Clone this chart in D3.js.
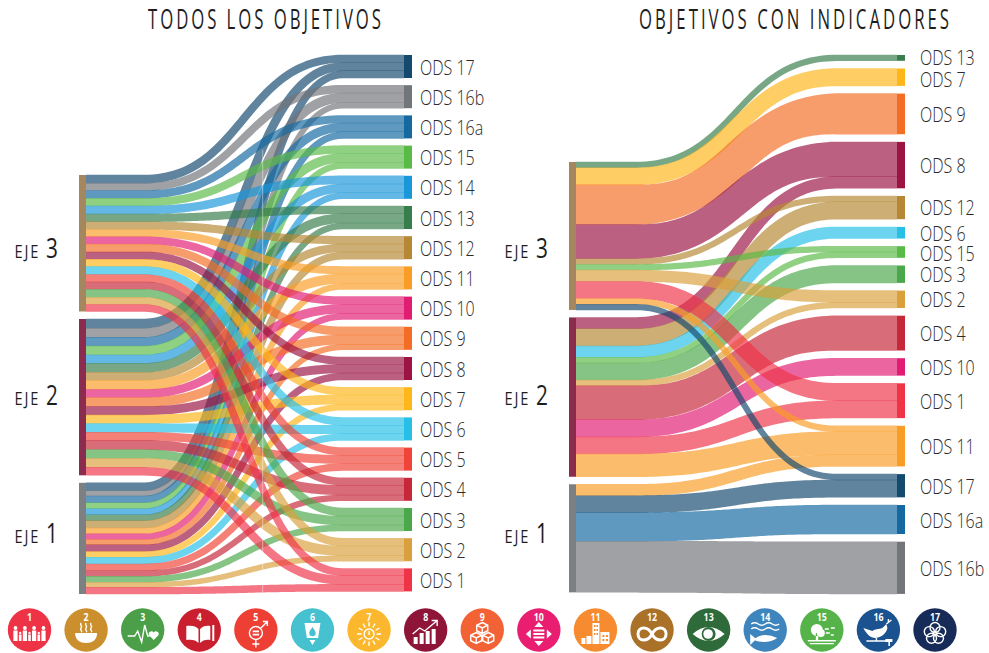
<!DOCTYPE html>
<html>
<head>
<meta charset="utf-8">
<script src="https://cdn.jsdelivr.net/npm/d3@7"></script>
<style>
  html, body { margin: 0; background: #fff; }
  .link { opacity: 0.68; }
  .label { font-family: "Open Sans", sans-serif; font-weight: 300; font-size: 20px; fill: #2b2b2b; }
  .title { font-family: "Open Sans", sans-serif; font-weight: 400; font-size: 27px; fill: #1e1e1e; }
  .eje { font-family: "Open Sans", sans-serif; font-weight: 400; fill: #1e1e1e; }
  .num { font-family: "Open Sans", sans-serif; font-weight: 700; font-size: 11px; fill: #fff; text-anchor: middle; }
</style>
</head>
<body>
<svg id="chart" width="989" height="653"></svg>
<script>
// --- data ---
var ejes = ["EJE 3", "EJE 2", "EJE 1"];

// left: all goals, same order in every axis
var allOds = ["ODS 17","ODS 16b","ODS 16a","ODS 15","ODS 14","ODS 13","ODS 12","ODS 11","ODS 10","ODS 9","ODS 8","ODS 7","ODS 6","ODS 5","ODS 4","ODS 3","ODS 2","ODS 1"];
var allEje3 = [8.3,7.3,7.7,7.7,8,7.7,7.7,7.3,7.3,8,7.3,7.3,8,7.3,7.3,8,7.3,7];
var allEje2 = [9.3,9,8.7,9,8.3,9,8,9.3,8,9,8.3,8.7,8.7,8,9.3,8.7,9,8];
var allEje1 = [8,5.3,6.7,6,6,6,7.3,5.7,5.7,5.3,6.7,5.7,6.7,6.7,5.7,6,5,6.7];

// right: goals with indicators, counts per axis
var indOds = ["ODS 13","ODS 7","ODS 9","ODS 8","ODS 12","ODS 6","ODS 15","ODS 3","ODS 2","ODS 4","ODS 10","ODS 1","ODS 11","ODS 17","ODS 16a","ODS 16b"];
var indEje3Ods = ["ODS 13","ODS 7","ODS 9","ODS 8","ODS 12","ODS 15","ODS 2","ODS 1","ODS 11","ODS 17"];
var indEje3 = [1,3,7,6,1,1,2,3,1,1];
var indEje2Ods = ["ODS 8","ODS 12","ODS 6","ODS 15","ODS 3","ODS 2","ODS 4","ODS 10","ODS 1","ODS 11"];
var indEje2 = [2,3,2,1,3,1,6,3,3,4];
var indEje1Ods = ["ODS 11","ODS 17","ODS 16a","ODS 16b"];
var indEje1 = [2,3,5,9];

var iconNumbers = d3.range(1, 18);
var iconColors = ["#ef3346","#cb8f2e","#4a9f48","#c91f2e","#ee3f35","#45c1cf","#fbb72d","#8e1538","#f26235","#e91e71","#f68b2f","#a97228","#2f6a3a","#3f85bd","#55b349","#1a5390","#172b58"];

var ejeColor = d3.scaleOrdinal(ejes, ["#a5875f","#8b2c4e","#7c8083"]);
var odsColor = d3.scaleOrdinal(
	["ODS 1","ODS 2","ODS 3","ODS 4","ODS 5","ODS 6","ODS 7","ODS 8","ODS 9","ODS 10","ODS 11","ODS 12","ODS 13","ODS 14","ODS 15","ODS 16a","ODS 16b","ODS 17"],
	["#ef3448","#d9a03d","#4ba84a","#c62839","#ef4437","#27bfe6","#fdb71b","#9b1444","#f36d25","#e11d73","#f99d27","#b68734","#387d4c","#1a97d9","#5aba47","#1569a0","#727579","#154a6f"]);

var svg = d3.select("#chart");

function sankey(o) {
	var g = svg.append("g");
	var sourceY = o.sourceTop;
	var targets = new Map(o.targets.map(function(t) { return [t, {name: t, total: 0, links: []}]; }));
	var links = [], sources = [];

	o.flows.forEach(function(f, i) {
		var total = d3.sum(f.values);
		var y = d3.scaleLinear().domain([0, total]).range([sourceY, sourceY + total * o.sourceK]);
		var acc = 0;
		f.ods.forEach(function(name, j) {
			var l = {eje: f.eje, ods: name, value: f.values[j], y0: y(acc), y1: y(acc + f.values[j]), order: i};
			acc += f.values[j];
			links.push(l);
			targets.get(name).links.push(l);
			targets.get(name).total += l.value;
		});
		sources.push({name: f.eje, y0: sourceY, y1: y(total), labelY: o.ejeY[i]});
		sourceY = y(total) + o.sourceGap;
	});

	var targetY = o.targetTop;
	targets.forEach(function(t) {
		t.y0 = targetY;
		t.y1 = targetY + o.targetHeight(t.total);
		var y = d3.scaleLinear().domain([0, t.total]).range([t.y0, t.y1]);
		var acc = 0;
		t.links.forEach(function(l) {
			l.t0 = y(acc);
			l.t1 = y(acc + l.value);
			acc += l.value;
		});
		targetY = t.y1 + o.targetGap;
	});

	// eje 1 goes underneath, eje 3 on top
	links.sort(function(a, b) { return b.order - a.order; });

	g.selectAll(".link").data(links).join("path")
		.attr("class", "link")
		.attr("fill", function(d) { return odsColor(d.ods); })
		.attr("d", function(d) { return ribbon(d, o); });

	if (o.seam) {
		g.append("line").attr("x1", o.seam).attr("x2", o.seam).attr("y1", 150).attr("y2", 593)
			.attr("stroke", "#fff").attr("stroke-opacity", 0.45);
	}

	g.selectAll(".source").data(sources).join("rect")
		.attr("x", o.sourceX).attr("width", o.nodeW0)
		.attr("y", function(d) { return d.y0; })
		.attr("height", function(d) { return d.y1 - d.y0; })
		.attr("fill", function(d) { return ejeColor(d.name); });

	var nodes = Array.from(targets.values());
	g.selectAll(".target").data(nodes).join("rect")
		.attr("x", o.targetX).attr("width", o.nodeW1)
		.attr("y", function(d) { return d.y0; })
		.attr("height", function(d) { return d.y1 - d.y0; })
		.attr("fill", function(d) { return odsColor(d.name); });

	g.selectAll(".label").data(nodes).join("text")
		.attr("class", "label")
		.attr("transform", function(d) {
			return "translate(" + o.labelX + "," + ((d.y0 + d.y1) / 2 + 8 + (o.labelNudge[d.name] || 0)) + ") scale(0.8,1)";
		})
		.text(function(d) { return d.name; });

	g.selectAll(".eje").data(sources).join("text")
		.attr("class", "eje")
		.attr("text-anchor", "end")
		.attr("transform", function(d) { return "translate(" + (o.sourceX - 21) + "," + d.labelY + ") scale(0.77,1)"; })
		.each(function(d) {
			var parts = d.name.split(" ");
			var t = d3.select(this);
			t.append("tspan").attr("font-size", 19).attr("letter-spacing", 2.5).text(parts[0] + " ");
			t.append("tspan").attr("font-size", 27).text(parts[1]);
		});

	g.append("text").attr("class", "title")
		.attr("transform", "translate(" + o.titleX + ",29) scale(0.62,1)")
		.attr("textLength", o.titleW / 0.62).attr("lengthAdjust", "spacing")
		.text(o.title);
}

// flat start, s-curve, flat end; width goes from source to target size
function ribbon(d, o) {
	var x0 = o.sourceX + o.nodeW0, x1 = o.targetX,
		xa = x0 + o.flat0, xb = x1 - o.flat1, xm = (xa + xb) / 2,
		ya = (d.y0 + d.y1) / 2, yb = (d.t0 + d.t1) / 2,
		w0 = d.y1 - d.y0 + 0.5, w1 = d.t1 - d.t0 + 0.5;

	var top = [[x0, ya - w0 / 2]], bottom = [[x0, ya + w0 / 2]];
	d3.range(0, 61).forEach(function(i) {
		var t = i / 60, u = 1 - t;
		var x = u*u*u*xa + 3*u*u*t*xm + 3*u*t*t*xm + t*t*t*xb;
		var y = u*u*u*ya + 3*u*u*t*ya + 3*u*t*t*yb + t*t*t*yb;
		var dx = 3*u*u*(xm-xa) + 3*t*t*(xb-xm);
		var dy = 6*u*t*(yb-ya);
		var n = Math.sqrt(dx*dx + dy*dy) || 1;
		var full = w0 + (w1 - w0) * t;
		// fat ribbons get thinner where they slope, so neighbours do not run over each other
		var w = full / 2 * (1 - 0.006 * full * Math.abs(dy) / n);
		top.push([x + dy / n * w, y - dx / n * w]);
		bottom.push([x - dy / n * w, y + dx / n * w]);
	});
	top.push([x1, yb - w1 / 2]);
	bottom.push([x1, yb + w1 / 2]);
	return d3.line()(top.concat(bottom.reverse())) + "Z";
}

sankey({
	title: "TODOS LOS OBJETIVOS", titleX: 148, titleW: 233,
	flows: [
		{eje: "EJE 3", ods: allOds, values: allEje3},
		{eje: "EJE 2", ods: allOds, values: allEje2},
		{eje: "EJE 1", ods: allOds, values: allEje1}
	],
	targets: allOds,
	targetHeight: function() { return 23; },
	sourceX: 79, nodeW0: 7, targetX: 404, nodeW1: 8,
	flat0: 58, flat1: 61,
	sourceTop: 175, sourceK: 1, sourceGap: 7.5,
	targetTop: 55, targetGap: 7.2,
	labelX: 420, ejeY: [258, 405, 543],
	seam: 262.7, labelNudge: {}
});

sankey({
	title: "OBJETIVOS CON INDICADORES", titleX: 639, titleW: 310,
	flows: [
		{eje: "EJE 3", ods: indEje3Ods, values: indEje3},
		{eje: "EJE 2", ods: indEje2Ods, values: indEje2},
		{eje: "EJE 1", ods: indEje1Ods, values: indEje1}
	],
	targets: indOds,
	targetHeight: function(v) { return v * 5.8; },
	sourceX: 569, nodeW0: 7, targetX: 897, nodeW1: 8,
	flat0: 60, flat1: 60,
	sourceTop: 162, sourceK: 5.69, sourceGap: 7.5,
	targetTop: 55, targetGap: 7.7,
	labelX: 920, ejeY: [258, 405, 543],
	labelNudge: {"ODS 7": 2, "ODS 15": 1, "ODS 13": -1, "ODS 12": -1}
});

// --- goal icons ---
function circ(x, y, r) {
	return "M" + (x - r) + "," + y + "a" + r + "," + r + " 0 1,0 " + (2 * r) + ",0a" + r + "," + r + " 0 1,0 " + (-2 * r) + ",0";
}
function box(x, y, w, h) { return "M" + x + "," + y + "h" + w + "v" + h + "h" + (-w) + "z"; }
function cube(x, y, s) {
	return "M" + x + "," + (y - s) + "l" + s + "," + (s / 2) + "v" + s + "l" + (-s) + "," + (s / 2) + "l" + (-s) + "," + (-s / 2) + "v" + (-s) + "z" +
		"M" + (x - s) + "," + (y - s / 2) + "l" + s + "," + (s / 2) + "l" + s + "," + (-s / 2) + "M" + x + "," + y + "v" + s;
}
function rays(cx, cy, r0, r1) {
	return d3.range(12).map(function(i) {
		var a = i * Math.PI / 6;
		return "M" + (cx + r0 * Math.cos(a)) + "," + (cy + r0 * Math.sin(a)) + "L" + (cx + r1 * Math.cos(a)) + "," + (cy + r1 * Math.sin(a));
	}).join("");
}
function person(x, s) {
	return circ(x, 11 - 13 * s, 1.9 * s) + box(x - 2.1 * s, 11 - 10.6 * s, 4.2 * s, 10.6 * s);
}

var glyphs = [
	{f: [-14, -4.6, 4.6, 14].map(function(x) { return person(x, 1); }).join("") + [-9.3, 0, 9.3].map(function(x) { return person(x, 0.62); }).join("")},
	{f: "M-11,3H11C11,10 6,13 0,13S-11,10 -11,3Z", s: "M-5,-7c-2,2 2,3 0,5s2,3 0,4M0,-7c-2,2 2,3 0,5s2,3 0,4M5,-7c-2,2 2,3 0,5s2,3 0,4"},
	{s: "M-15,6H-8L-5,1 -1,12 2,-5 5,6H7", f: "M11,10l-4.5,-4.5a2.5,2.5 0 0,1 4.5,-3a2.5,2.5 0 0,1 4.5,3z"},
	{f: "M-13,-4C-8,-5 -3,-4 -0.8,-1V13C-3,10 -8,9 -13,10ZM0.8,-1C3,-4 8,-5 11,-4V10C8,9 3,10 0.8,13Z" + box(13, -5, 2, 16)},
	{s: circ(0, 3, 6.5) + "M0,9.5V17.5M-3.5,14H3.5M4.6,-1.6L11,-8M7,-8.5H11.5V-4", f: box(-3.2, 0.6, 6.4, 1.6) + box(-3.2, 3.8, 6.4, 1.6)},
	{f: "M-8,-7H8L5.6,8H-5.6ZM-3,10H3L0,15Z", k: "M0,-3C-2,0 -3.2,1.4 -3.2,3A3.2,3.2 0 0,0 3.2,3C3.2,1.4 2,0 0,-3Z"},
	{s: circ(0, 4, 5) + "M0,1V5" + rays(0, 4, 7.5, 12)},
	{f: box(-12, 7, 4, 7) + box(-6, 3, 4, 11) + box(0, 1, 4, 13) + box(6, -1, 4, 15), s: "M-13,4L-6,-2 -1,1 11,-9M6,-9.5H11.5V-4"},
	{s: cube(0, -2, 5.5) + cube(-6, 8, 5.5) + cube(6, 8, 5.5)},
	{f: "M0,-8L4.5,-3H-4.5ZM0,16L4.5,11H-4.5ZM-13,4L-8,-0.5V8.5ZM13,4L8,-0.5V8.5Z" + box(-5.5, -0.5, 11, 2) + box(-5.5, 3, 11, 2) + box(-5.5, 6.5, 11, 2)},
	{f: box(-14, 8, 4, 6) + box(-9, 6, 5, 8) + box(-3, -7, 7, 21) + box(5, 2, 9, 12), k: box(-1.5, -5, 1.5, 2) + box(1, -5, 1.5, 2) + box(-1.5, -1, 1.5, 2) + box(1, -1, 1.5, 2) + box(-1.5, 3, 1.5, 2) + box(1, 3, 1.5, 2) + box(7, 5, 2, 2) + box(10.5, 5, 2, 2) + box(7, 9, 2, 2) + box(10.5, 9, 2, 2)},
	{s: "M0,4C-4,-4 -14,-4 -14,4S-4,12 0,4S14,-4 14,4S4,12 0,4Z", w: 3},
	{f: "M-16,4Q0,-10 16,4Q0,18 -16,4Z", k: circ(0, 4, 7), f2: circ(-0.5, 4, 4.8)},
	{s: "M-14,-6q3.5,-2.4 7,0t7,0 7,0 7,0M-14,-1q3.5,-2.4 7,0t7,0 7,0 7,0", f: "M-12,10Q-2,1 12,8Q2,15 -12,10ZM-15,4L-9,9 -15,15Z"},
	{f: circ(-5, 0, 6) + circ(-1, 3, 4) + box(-6, 3, 2.4, 7) + box(-14, 10, 28, 1.5) + box(-12, 13, 24, 1.2), s: "M3,-1H7M9,-2H13M4,3H8M9,5H12"},
	{f: "M-15,-2L-6,1C-2,-2 2,0 5,-3L8,-6 9,-2C8,3 4,7 -3,8C-8,8 -12,4 -15,-2Z", s: "M8,-6L13,-10M10,-8v-3M-12,11H8M-2,8V11", f2: box(7, 9, 7, 3) + box(10, 12, 1.6, 4)},
	{s: [[0, -2.5], [5.7, 1.6], [3.5, 8.3], [-3.5, 8.3], [-5.7, 1.6]].map(function(p) { return circ(p[0], p[1], 5); }).join("")}
];

var iconX = d3.scaleLinear().domain([1, 17]).range([29.5, 935]);

var icons = svg.append("g").selectAll("g").data(iconNumbers).join("g")
	.attr("transform", function(d) { return "translate(" + iconX(d) + ",630)"; });

icons.append("circle").attr("r", 21.7).attr("fill", function(d, i) { return iconColors[i]; });
icons.append("text").attr("class", "num").attr("transform", "translate(0,-9.5) scale(0.8,1)").text(function(d) { return d; });
icons.append("path").attr("fill", "#fff").attr("d", function(d, i) { return glyphs[i].f || ""; });
icons.append("path").attr("fill", function(d, i) { return iconColors[i]; }).attr("d", function(d, i) { return glyphs[i].k || ""; });
icons.append("path").attr("fill", "#fff").attr("d", function(d, i) { return glyphs[i].f2 || ""; });
icons.append("path").attr("fill", "none").attr("stroke", "#fff")
	.attr("stroke-width", function(d, i) { return glyphs[i].w || 1.4; })
	.attr("d", function(d, i) { return glyphs[i].s || ""; });
</script>
</body>
</html>
